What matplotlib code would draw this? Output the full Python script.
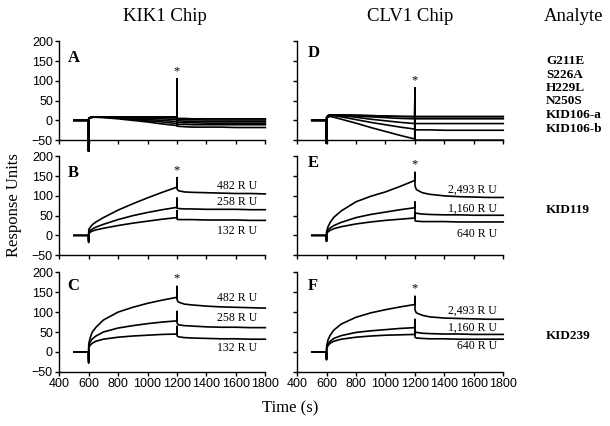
import matplotlib.pyplot as plt

# time grid (s) shared by all sensorgrams
time_s = [500, 599, 600, 601, 610, 625, 650, 700, 800, 900, 1000, 1100,
          1199, 1200, 1201, 1210, 1250, 1300, 1400, 1500, 1600, 1700, 1800]

# panel A: KIK1 chip, mutant analytes
kik1_mutants = [
    [0, 0, -78, 5, 7, 8, 9, 9, 9, 9, 9, 9, 9, 105, 6, 5, 5, 4, 4, 4, 4, 4, 4],
    [0, 0, -78, 5, 7, 8, 9, 9, 9, 8, 8, 7, 6, 105, 4, 3, 2, 2, 1, 1, 1, 1, 1],
    [0, 0, -78, 5, 7, 8, 9, 9, 8, 7, 5, 4, 2, 105, 0, -1, -2, -2, -3, -3, -3, -3, -3],
    [0, 0, -78, 5, 7, 8, 9, 8, 7, 5, 2, 0, -3, 105, -4, -5, -6, -6, -7, -7, -7, -7, -7],
    [0, 0, -78, 5, 7, 8, 8, 8, 6, 3, -1, -4, -8, 105, -9, -10, -10, -11, -11, -11, -11, -11, -11],
    [0, 0, -78, 5, 7, 8, 8, 7, 4, 0, -4, -9, -13, 105, -14, -15, -16, -17, -17, -17, -18, -18, -18],
]
# panel D: CLV1 chip, mutant analytes
clv1_mutants = [
    [0, 0, -58, 8, 12, 14, 14, 14, 13, 12, 11, 10, 10, 82, 10, 10, 10, 10, 10, 10, 10, 10, 10],
    [0, 0, -58, 8, 12, 14, 14, 14, 13, 12, 11, 10, 9, 82, 9, 9, 9, 9, 9, 9, 9, 9, 9],
    [0, 0, -58, 8, 12, 14, 14, 13, 11, 9, 7, 5, 4, 82, 4, 4, 4, 4, 4, 4, 4, 4, 4],
    [0, 0, -58, 8, 12, 13, 13, 12, 8, 3, -1, -5, -8, 82, -8, -8, -8, -8, -8, -8, -8, -8, -8],
    [0, 0, -58, 8, 11, 12, 12, 9, 2, -5, -11, -17, -22, 82, -23, -24, -24, -24, -25, -25, -25, -25, -25],
    [0, 0, -58, 6, 8, 10, 8, 3, -7, -18, -28, -38, -47, 82, -49, -50, -50, -50, -50, -50, -50, -50, -50],
]

# panel B: KIK1 chip, KID119 at three densities
kik1_kid119 = [
    [0, 0, -18, 15, 20, 27, 34, 45, 64, 80, 95, 109, 122, 146, 117, 113, 110, 109, 108, 107, 106, 106, 105],
    [0, 0, -15, 8, 12, 16, 21, 28, 40, 50, 58, 65, 71, 95, 69, 68, 67, 67, 66, 66, 66, 65, 65],
    [0, 0, -12, 5, 8, 11, 14, 18, 25, 31, 36, 41, 45, 63, 41, 40, 40, 40, 39, 39, 39, 38, 38],
]
# panel C: KIK1 chip, KID239
kik1_kid239 = [
    [0, 0, -28, 20, 35, 50, 62, 80, 100, 112, 122, 130, 137, 165, 130, 125, 120, 118, 115, 113, 112, 111, 110],
    [0, 0, -25, 15, 25, 33, 40, 50, 60, 66, 71, 75, 78, 102, 72, 68, 66, 65, 63, 62, 62, 61, 61],
    [0, 0, -20, 10, 17, 22, 27, 32, 37, 40, 42, 44, 45, 65, 40, 38, 36, 35, 34, 33, 33, 32, 32],
]
# panel E: CLV1 chip, KID119
clv1_kid119 = [
    [0, 0, -15, 10, 22, 33, 46, 62, 85, 99, 110, 124, 139, 160, 125, 116, 108, 104, 100, 98, 97, 96, 96],
    [0, 0, -15, 8, 14, 19, 25, 33, 45, 53, 59, 65, 70, 85, 58, 56, 54, 53, 52, 52, 51, 51, 51],
    [0, 0, -12, 5, 9, 13, 17, 22, 29, 34, 38, 41, 44, 58, 37, 36, 35, 35, 35, 34, 34, 34, 34],
]
# panel F: CLV1 chip, KID239
clv1_kid239 = [
    [0, 0, -20, 15, 30, 42, 55, 70, 87, 98, 106, 113, 119, 140, 105, 98, 92, 88, 85, 84, 83, 82, 82],
    [0, 0, -18, 10, 20, 27, 34, 41, 49, 53, 56, 59, 61, 82, 52, 49, 47, 46, 45, 45, 44, 44, 44],
    [0, 0, -15, 8, 16, 22, 27, 32, 37, 40, 42, 43, 44, 58, 37, 35, 34, 33, 33, 32, 32, 32, 32],
]

kik1_ru = ["482 R U", "258 R U", "132 R U"]
clv1_ru = ["2,493 R U", "1,160 R U", "640 R U"]
mutant_names = ["G211E", "S226A", "H229L", "N250S", "KID106-a", "KID106-b"]

serif = "Liberation Serif"
sans = "Liberation Sans"

fig = plt.figure(figsize=(6.1, 4.26), dpi=100)

left_x, right_x, w = 0.097, 0.487, 0.338
rows = [(0.671, 0.232), (0.401, 0.232), (0.127, 0.234)]

panels = [
    ("A", left_x, 0, kik1_mutants, None, None, (0.04, 0.83)),
    ("B", left_x, 1, kik1_kid119, kik1_ru, [126, 84, 11], (0.04, 0.83)),
    ("C", left_x, 2, kik1_kid239, kik1_ru, [136, 86, 9], (0.04, 0.86)),
    ("D", right_x, 0, clv1_mutants, None, None, (0.05, 0.88)),
    ("E", right_x, 1, clv1_kid119, clv1_ru, [115, 67, 4], (0.05, 0.93)),
    ("F", right_x, 2, clv1_kid239, clv1_ru, [104, 61, 15], (0.05, 0.86)),
]

for letter, x0, r, series, labels, label_y, letter_pos in panels:
    y0, h = rows[r]
    ax = fig.add_axes([x0, y0, w, h])
    for vals in series:
        ax.plot(time_s, vals, color="black", lw=1.2, clip_on=False)
    ax.set_xlim(400, 1800)
    ax.set_ylim(-50, 200)
    ax.set_xticks(range(400, 1801, 200))
    ax.set_yticks(range(-50, 201, 50))
    ax.spines["top"].set_visible(False)
    ax.spines["right"].set_visible(False)
    for s in ("left", "bottom"):
        ax.spines[s].set_linewidth(1.0)
    ax.tick_params(direction="out", length=3, width=1.0, pad=1.5)
    for t in ax.get_xticklabels() + ax.get_yticklabels():
        t.set_fontfamily(sans)
        t.set_fontsize(9)
    if r < 2:
        ax.tick_params(labelbottom=False)
    if x0 == right_x:
        ax.tick_params(labelleft=False)

    peak = max(max(v) for v in series)
    ax.text(1200, peak + 4, "*", ha="center", va="bottom",
            fontfamily=serif, fontsize=9)
    ax.text(letter_pos[0], letter_pos[1], letter, transform=ax.transAxes,
            ha="left", va="center", fontfamily=serif, fontweight="bold",
            fontsize=12)
    if labels:
        xr = 1745 if x0 == left_x else 1757
        for lab, yv in zip(labels, label_y):
            ax.text(xr, yv, lab, ha="right", va="center",
                    fontfamily=serif, fontsize=8.5)

fig.text(0.27, 0.962, "KIK1 Chip", ha="center", va="center",
         fontfamily=serif, fontsize=13.5)
fig.text(0.672, 0.962, "CLV1 Chip", ha="center", va="center",
         fontfamily=serif, fontsize=13.5)
fig.text(0.94, 0.962, "Analyte", ha="center", va="center",
         fontfamily=serif, fontsize=13.5)

for i, name in enumerate(mutant_names):
    fig.text(0.895, 1 - (61 + i * 13.5) / 426, name, ha="left", va="center",
             fontfamily=serif, fontweight="bold", fontsize=9.5)
fig.text(0.895, 1 - 210 / 426, "KID119", ha="left", va="center",
         fontfamily=serif, fontweight="bold", fontsize=9.5)
fig.text(0.895, 1 - 336 / 426, "KID239", ha="left", va="center",
         fontfamily=serif, fontweight="bold", fontsize=9.5)

fig.text(0.023, 0.519, "Response Units", rotation=90, ha="center",
         va="center", fontfamily=serif, fontsize=12)
fig.text(0.475, 0.042, "Time (s)", ha="center", va="center",
         fontfamily=serif, fontsize=12)

fig.savefig("out.png", dpi=100)
